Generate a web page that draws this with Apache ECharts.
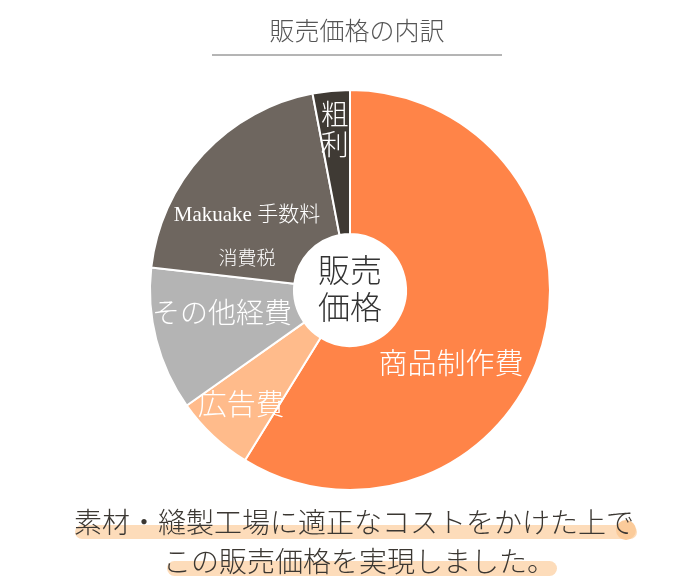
<!DOCTYPE html>
<html>
<head>
<meta charset="utf-8">
<script src="https://cdn.jsdelivr.net/npm/echarts@6/dist/echarts.min.js"></script>
<style>
  html, body { margin: 0; padding: 0; background: #fff; }
  #main { width: 700px; height: 583px; }
</style>
</head>
<body>
<div id="main"></div>
<script>
// 販売価格の内訳 (読み取り値, %)
var categories = ['商品制作費', '広告費', 'その他経費', 'Makuake 手数料\n消費税', '粗利'];
var values = [58.8, 6.4, 11.6, 20.2, 3.0];
var sliceColors = ['#FF8448', '#FFBB8B', '#B4B4B4', '#6E665F', '#3F3A34'];

var FONT = "'Noto Sans CJK JP', 'Noto Sans', sans-serif";
var SERIF = "'Liberation Serif', 'Noto Sans CJK JP', serif";

// ラベル位置の微調整
var labelTweaks = [
    {offset: [-25, 37], fontSize: 29},
    {offset: [-19, 18], fontSize: 29},
    {offset: [-1, -10], fontSize: 28},
    {offset: [-7, 36], rich: true},
    {offset: [-3, -30], fontSize: 28, lineHeight: 30}
];

var pieData = categories.map(function (name, i) {
    var t = labelTweaks[i];
    var label = {offset: t.offset};
    if (t.rich) {
        label.formatter = '{a|Makuake 手数料}\n{b|消費税}';
        label.rich = {
            a: {fontSize: 21, color: '#fff', fontFamily: SERIF, lineHeight: 42},
            b: {fontSize: 19, color: '#fff', fontFamily: FONT, lineHeight: 42, fontWeight: 300}
        };
    } else {
        label.fontSize = t.fontSize;
        if (t.lineHeight) label.lineHeight = t.lineHeight;
    }
    if (i === 4) label.formatter = '粗\n利';
    return {name: name, value: values[i], itemStyle: {color: sliceColors[i]}, label: label};
});

var myChart = echarts.init(document.getElementById('main'));
myChart.setOption({
    animation: false,
    graphic: [
        {type: 'text', x: 357, y: 30, style: {text: '販売価格の内訳', fontSize: 25, fill: '#555', fontFamily: FONT, fontWeight: 300, align: 'center', verticalAlign: 'middle'}},
        {type: 'line', shape: {x1: 212, y1: 55, x2: 502, y2: 55}, style: {stroke: '#6a6a6a', lineWidth: 1}},
        // 中央
        {type: 'text', x: 350, y: 288, style: {text: '販売\n価格', fontSize: 32, lineHeight: 37, fill: '#333', fontFamily: FONT, fontWeight: 300, align: 'center', verticalAlign: 'middle'}},
        // マーカー
        {type: 'rect', shape: {x: 75, y: 525, width: 562, height: 14, r: 7}, style: {fill: '#FDDCBA'}},
        {type: 'circle', shape: {cx: 626, cy: 530, r: 10}, style: {fill: '#FBCB9A'}},
        {type: 'rect', shape: {x: 167, y: 561, width: 390, height: 15, r: 7.5}, style: {fill: '#FDDCBA'}},
        {type: 'text', x: 354, y: 522, style: {text: '素材・縫製工場に適正なコストをかけた上で', fontSize: 28, fill: '#3b3732', fontFamily: FONT, fontWeight: 300, align: 'center', verticalAlign: 'middle'}},
        {type: 'text', x: 359, y: 561, style: {text: 'この販売価格を実現しました。', fontSize: 28, fill: '#3b3732', fontFamily: FONT, fontWeight: 300, align: 'center', verticalAlign: 'middle'}}
    ],
    series: [
        {
            type: 'pie',
            center: [350, 290],
            radius: [56, 200],
            startAngle: 90,
            clockwise: true,
            silent: true,
            itemStyle: {borderColor: '#fff', borderWidth: 2},
            label: {
                show: true,
                position: 'inside',
                color: '#fff',
                fontFamily: FONT,
                fontWeight: 300
            },
            labelLine: {show: false},
            data: pieData
        }
    ]
});
</script>
</body>
</html>
